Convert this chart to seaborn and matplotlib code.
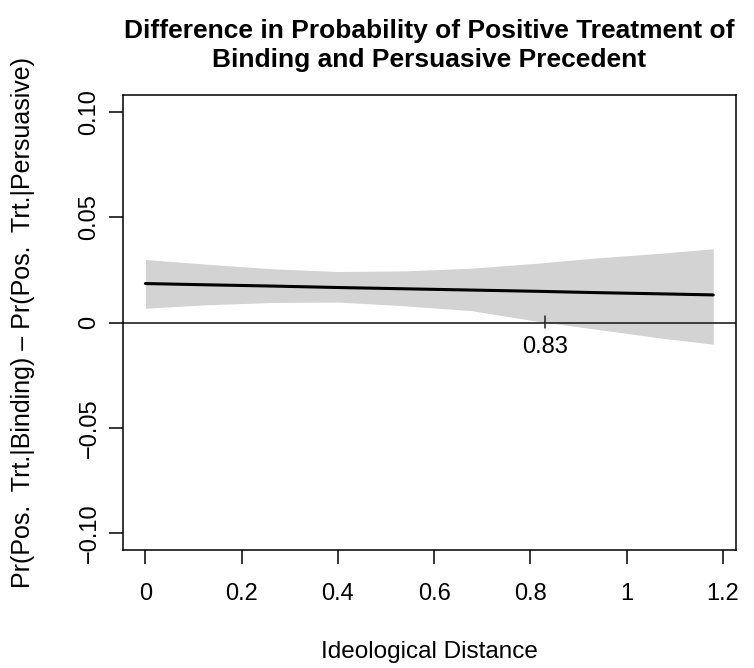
import numpy as np
import pandas as pd
import matplotlib
matplotlib.use("Agg")
import matplotlib.pyplot as plt
import seaborn as sns

# Ideological distance grid and the estimated difference with its 95% band
distance = [0.0, 0.126, 0.264, 0.402, 0.54, 0.678, 0.817, 0.934, 1.072, 1.18]
estimate = [0.0185, 0.0179, 0.0173, 0.0166, 0.0160, 0.0154, 0.0148, 0.0142, 0.0136, 0.0131]
upper = [0.0299, 0.0277, 0.0255, 0.0242, 0.0245, 0.0258, 0.0282, 0.0306, 0.0329, 0.0350]
lower = [0.0068, 0.0084, 0.0095, 0.0097, 0.0079, 0.0056, 0.0005, -0.0031, -0.0074, -0.0103]

# Point where the lower bound crosses zero
cross_x = 0.83
cross_label = "0.83"

x_ticks = [0, 0.2, 0.4, 0.6, 0.8, 1.0, 1.2]
x_tick_labels = ["0", "0.2", "0.4", "0.6", "0.8", "1", "1.2"]
y_ticks = [-0.10, -0.05, 0.0, 0.05, 0.10]
y_tick_labels = ["\u22120.10", "\u22120.05", "0", "0.05", "0.10"]

df = pd.DataFrame({"distance": distance, "estimate": estimate,
                   "upper": upper, "lower": lower})

sns.set_theme(style="ticks")
plt.rcParams["font.family"] = ["Liberation Sans", "DejaVu Sans"]
plt.rcParams["axes.unicode_minus"] = True
plt.rcParams["text.color"] = "black"
plt.rcParams["axes.labelcolor"] = "black"
plt.rcParams["xtick.color"] = "black"
plt.rcParams["ytick.color"] = "black"

fig = plt.figure(figsize=(7.54, 6.68), dpi=100)
ax = fig.add_axes([0.1627, 0.1766, 0.9761 - 0.1627, 0.8578 - 0.1766])

ax.fill_between(df["distance"], df["lower"], df["upper"],
                color="#D3D3D3", linewidth=0, zorder=1)
sns.lineplot(data=df, x="distance", y="estimate", color="black",
             linewidth=2.2, ax=ax, zorder=3)
ax.axhline(0, color="#222222", linewidth=1.2, zorder=2)

# Mark where the confidence band crosses zero
ax.plot([cross_x, cross_x], [-0.0027, 0.0033], color="#222222",
        linewidth=1.1, zorder=2)
ax.text(cross_x, -0.0062, cross_label, ha="center", va="top", fontsize=17,
        color="black")

ax.set_xlim(-0.0472, 1.2272)
ax.set_ylim(-0.108, 0.108)
ax.set_xticks(x_ticks)
ax.set_xticklabels(x_tick_labels, fontsize=17)
ax.set_yticks(y_ticks)
ax.set_yticklabels(y_tick_labels, fontsize=17, rotation=90, va="center")
ax.tick_params(axis="both", direction="out", length=10, width=1.1,
               color="black", labelcolor="black")
ax.tick_params(axis="x", pad=14)
ax.tick_params(axis="y", pad=6)
for spine in ax.spines.values():
    spine.set_visible(True)
    spine.set_linewidth(1.1)
    spine.set_color("black")

ax.set_xlabel("Ideological Distance", fontsize=17.5, labelpad=26,
              color="black")
ax.set_ylabel("Pr(Pos.  Trt.|Binding) \u2013 Pr(Pos.  Trt.|Persuasive)",
              fontsize=18, labelpad=31, color="black")
ax.set_title("Difference in Probability of Positive Treatment of\n"
             "Binding and Persuasive Precedent",
             fontsize=19, fontweight="bold", pad=20, linespacing=1.25,
             color="black")

fig.savefig("out.png", dpi=100)
